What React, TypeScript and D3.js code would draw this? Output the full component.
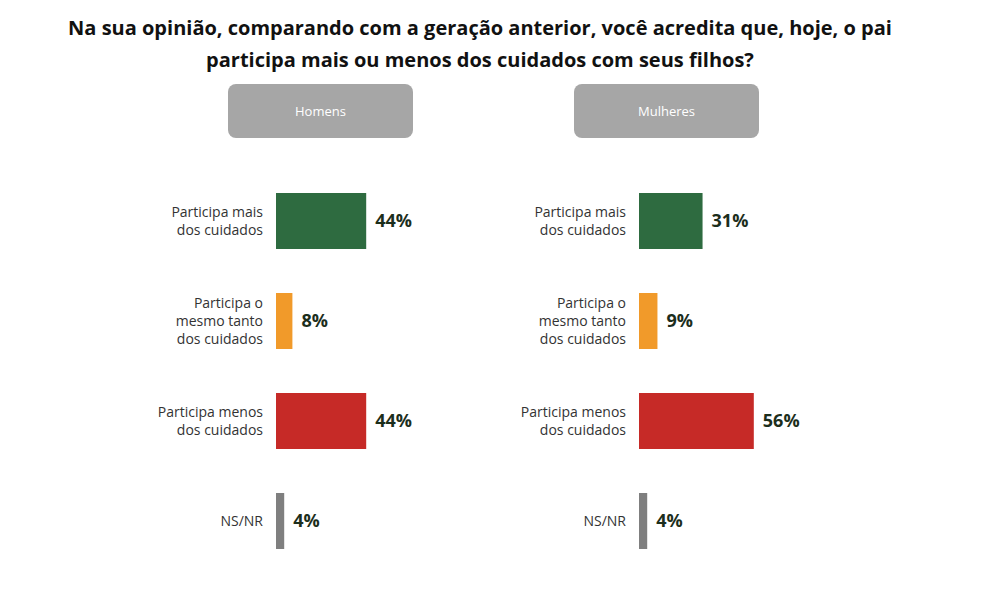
import React from 'react';
import * as d3 from 'd3';

const title = [
  'Na sua opinião, comparando com a geração anterior, você acredita que, hoje, o pai',
  'participa mais ou menos dos cuidados com seus filhos?',
];
const categories = ['mais', 'mesmo', 'menos', 'nsnr'];
const categoryLabels = [
  ['Participa mais', 'dos cuidados'],
  ['Participa o', 'mesmo tanto', 'dos cuidados'],
  ['Participa menos', 'dos cuidados'],
  ['NS/NR'],
];
const colors = ['#2e6b40', '#f19a2a', '#c62a27', '#7f7f7f'];
const groups = ['Homens', 'Mulheres'];
const homens = [44, 8, 44, 4];
const mulheres = [31, 9, 56, 4];

const W = 985;
const H = 600;

const App: React.FC = () => {
  const x = d3.scaleLinear().domain([0, 100]).range([0, 205]);
  const y = d3.scaleBand<string>().domain(categories).range([171, 571]).paddingInner(0.44).paddingOuter(0.22);
  const panels = [
    { name: groups[0], values: homens, x0: 276, head: 228 },
    { name: groups[1], values: mulheres, x0: 639, head: 574 },
  ];
  const font = "'Open Sans', 'DejaVu Sans', sans-serif";
  return (
    <svg width={W} height={H} style={{ display: 'block', position: 'absolute', left: 0, top: 0 }} fontFamily={font}>
      <rect width={W} height={H} fill="#fff" />
      {title.map((t, i) => (
        <text key={i} x={480} y={35 + i * 32} textAnchor="middle" fontSize={20} fontWeight="bold" fill="#111">{t}</text>
      ))}
      {panels.map((p) => (
        <g key={p.name}>
          <rect x={p.head} y={84} width={185} height={54} rx={8} fill="#a6a6a6" />
          <text x={p.head + 92.5} y={116} textAnchor="middle" fontSize={13} fill="#fff">{p.name}</text>
          {categories.map((c, i) => {
            const by = y(c)!;
            const bh = y.bandwidth();
            const lines = categoryLabels[i];
            const cy = by + bh / 2;
            return (
              <g key={c}>
                <rect x={p.x0} y={by} width={x(p.values[i])} height={bh} fill={colors[i]} />
                {lines.map((l, j) => (
                  <text key={j} x={p.x0 - 13} y={cy + (j - (lines.length - 1) / 2) * 18 + 5} textAnchor="end" fontSize={14} fill="#333">{l}</text>
                ))}
                <text x={p.x0 + x(p.values[i]) + 9} y={cy + 6} fontSize={18} fontWeight="bold" fill="#1c2e1c">{p.values[i]}%</text>
              </g>
            );
          })}
        </g>
      ))}
    </svg>
  );
};

export default App;
